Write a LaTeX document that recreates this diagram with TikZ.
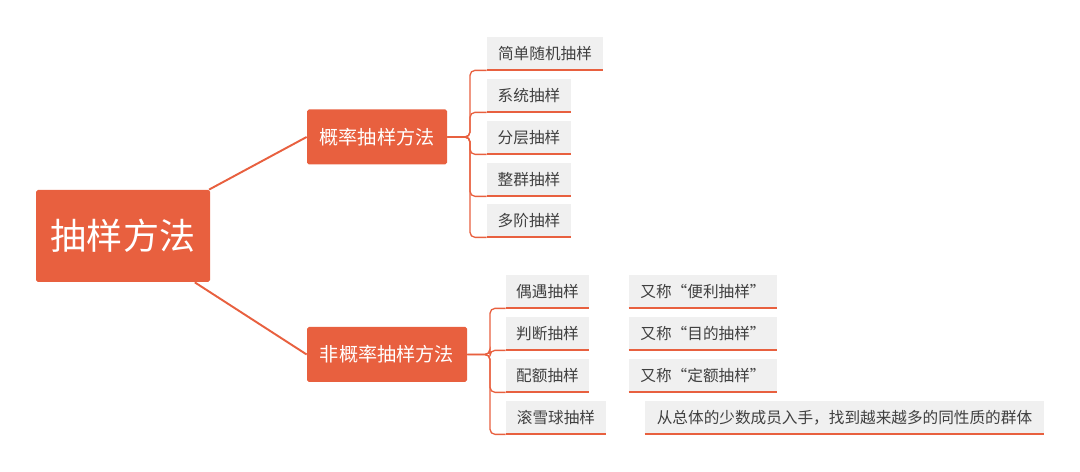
\documentclass[tikz,border=0pt]{standalone}
\usepackage{fontspec}
\setmainfont{Noto Sans CJK SC}
\definecolor{mmorange}{HTML}{E8603F}
\definecolor{mmgray}{HTML}{F0F0F0}
\definecolor{mmtext}{HTML}{404040}

\begin{document}
\begin{tikzpicture}[x=0.02cm, y=-0.02cm,
	rootbox/.style={fill=mmorange, text=white, inner sep=0pt, rounded corners=1pt,
		minimum width=174*0.02cm, minimum height=92*0.02cm, font=\fontsize{20.5}{24}\selectfont},
	topicbox/.style={fill=mmorange, text=white, inner sep=0pt, rounded corners=1pt,
		minimum height=55*0.02cm, font=\fontsize{10.9}{13}\selectfont},
	leafbox/.style={fill=mmgray, text=mmtext, inner sep=0pt,
		minimum height=33*0.02cm, font=\fontsize{8.9}{11}\selectfont},
	trunk/.style={draw=mmorange, line width=1.1pt},
	branch/.style={draw=mmorange, line width=0.75pt, rounded corners=5*0.02cm},
	uline/.style={draw=mmorange, line width=1.2pt}]
			\useasboundingbox (0,0) rectangle (1080,472);
			\draw (123, 236) node [rootbox] (root) {抽样方法};
			\draw (377, 137) node [topicbox, minimum width=140*0.02cm] (prob) {概率抽样方法};
			\draw (387, 354.5) node [topicbox, minimum width=160*0.02cm] (nonprob) {非概率抽样方法};
			\path (root) edge [trunk] (prob.west)
			(root) edge [trunk] (nonprob.west);
			% probability sampling
			\draw (545, 53.5) node [leafbox, minimum width=116*0.02cm] (p1) {简单随机抽样};
			\draw (529, 95.5) node [leafbox, minimum width=84*0.02cm] (p2) {系统抽样};
			\draw (529, 137.5) node [leafbox, minimum width=84*0.02cm] (p3) {分层抽样};
			\draw (529, 179.5) node [leafbox, minimum width=84*0.02cm] (p4) {整群抽样};
			\draw (529, 220.5) node [leafbox, minimum width=84*0.02cm] (p5) {多阶抽样};
			\foreach \leaf in {p1,p2,p3,p4,p5} {
				\draw [branch] (prob.east) -- (470, 137) |- (\leaf.south west);
				\draw [uline] (\leaf.south west) -- (\leaf.south east);
			}
			% non-probability sampling
			\draw (547.5, 291.5) node [leafbox, minimum width=83*0.02cm] (n1) {偶遇抽样};
			\draw (547.5, 333.5) node [leafbox, minimum width=83*0.02cm] (n2) {判断抽样};
			\draw (547.5, 375.5) node [leafbox, minimum width=83*0.02cm] (n3) {配额抽样};
			\draw (556, 417.5) node [leafbox, minimum width=100*0.02cm] (n4) {滚雪球抽样};
			\foreach \leaf in {n1,n2,n3,n4} {
				\draw [branch] (nonprob.east) -- (490, 354.5) |- (\leaf.south west);
				\draw [uline] (\leaf.south west) -- (\leaf.south east);
			}
			\draw (703, 291.5) node [leafbox, minimum width=148*0.02cm] (d1) {又称“便利抽样”};
			\draw (703, 333.5) node [leafbox, minimum width=148*0.02cm] (d2) {又称“目的抽样”};
			\draw (703, 375.5) node [leafbox, minimum width=148*0.02cm] (d3) {又称“定额抽样”};
			\draw (844.5, 417.5) node [leafbox, minimum width=399*0.02cm] (d4) {从总体的少数成员入手，找到越来越多的同性质的群体};
			\foreach \leaf in {d1,d2,d3,d4}
				\draw [uline] (\leaf.south west) -- (\leaf.south east);
		\end{tikzpicture}
\end{document}
